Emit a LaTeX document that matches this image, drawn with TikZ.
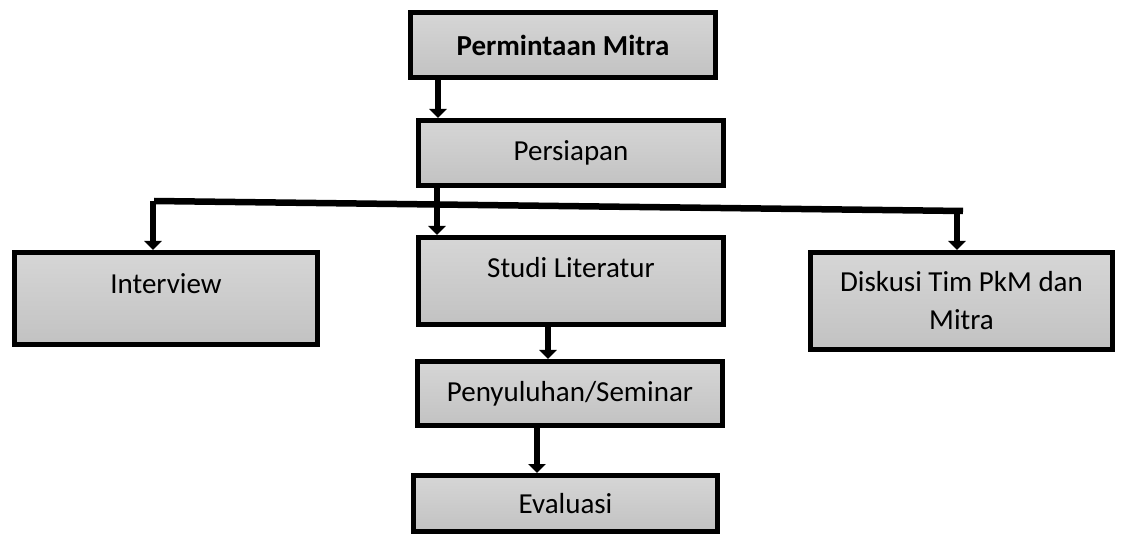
\documentclass[tikz,border=0pt]{standalone}
\usepackage{fontspec}
\setmainfont{Carlito}
\usetikzlibrary{arrows.meta}
\definecolor{boxtop}{HTML}{D6D6D6}
\definecolor{boxbot}{HTML}{C2C2C2}

\begin{document}
\begin{tikzpicture}[x=1pt, y=-1pt,
		box/.style={draw, rectangle, line width=5pt, top color=boxtop, bottom color=boxbot,
			inner sep=0pt, align=center, minimum width=305pt, font=\fontsize{29}{38}\selectfont},
		arr/.style={line width=6.5pt, -{Triangle[width=17pt,length=9pt]}},
		bus/.style={line width=6.5pt}]
				\useasboundingbox (0,0) rectangle (1122,534);
				\node (box1) [box, minimum height=65pt] at (563,45) {\textbf{Permintaan Mitra}};
				\node (box2) [box, minimum height=65pt] at (571,153) {Persiapan};
				\node (box3) [box, minimum width=303pt, text height=41.5pt, text depth=50.5pt] at (166,298.5) {Interview};
				\node (box4) [box, text height=40.5pt, text depth=46.5pt] at (571,281) {Studi Literatur};
				\node (box5) [box, minimum width=302pt, minimum height=97pt] at (961.5,301) {Diskusi Tim PkM dan\\Mitra};
				\node (box6) [box, minimum height=64pt] at (570,393.5) {Penyuluhan/Seminar};
				\node (box7) [box, minimum width=304pt, minimum height=56pt] at (565.5,503.5) {Evaluasi};
				\coordinate (busL) at (154,201);
				\coordinate (busR) at (963,211);
				
				% Arrows
				\draw[arr] ([xshift=-125pt]box1.south) -- ([xshift=-125pt]box1.south |- box2.north);
				\draw[bus] (busL) -- (busR);
				\draw[arr] ([xshift=-134pt]box2.south) -- ([xshift=-134pt]box2.south |- box4.north);
				\draw[arr] ([xshift=-1pt]busL) -- ([xshift=-1pt]busL |- box3.north);
				\draw[arr] ([xshift=-6pt]busR) -- ([xshift=-6pt]busR |- box5.north);
				\draw[arr] ([xshift=-23pt]box4.south) -- ([xshift=-23pt]box4.south |- box6.north);
				\draw[arr] ([xshift=-33pt]box6.south) -- ([xshift=-33pt]box6.south |- box7.north);
		\end{tikzpicture}
\end{document}
